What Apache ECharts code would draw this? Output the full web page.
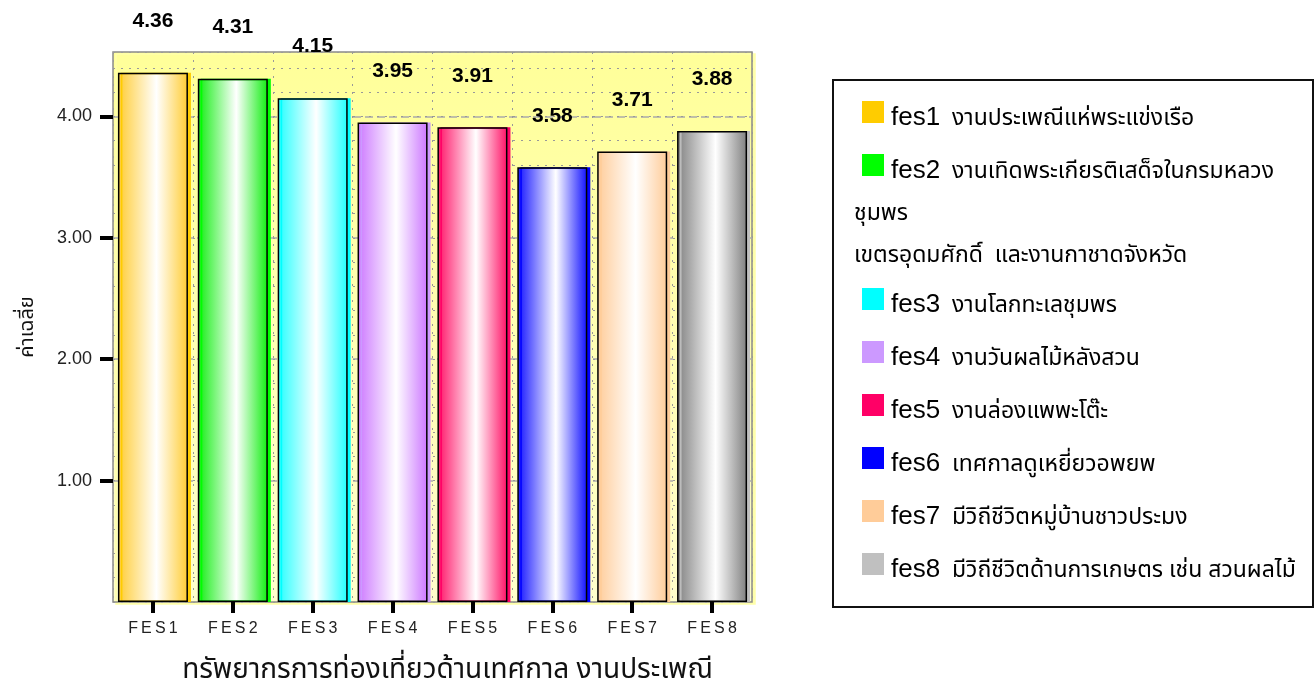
<!DOCTYPE html>
<html><head><meta charset="utf-8">
<script src="https://cdn.jsdelivr.net/npm/echarts@6/dist/echarts.min.js"></script>
<style>html,body{margin:0;padding:0;background:#fff}#c{width:1316px;height:689px}</style>
</head><body><div id="c"></div>
<script>
const categories = ['FES1','FES2','FES3','FES4','FES5','FES6','FES7','FES8'];
const values = [4.36, 4.31, 4.15, 3.95, 3.91, 3.58, 3.71, 3.88];
const barEdgeColors = ['#FFCC33','#11EE11','#22FFFF','#CC77FF','#FF1166','#1111FF','#FFCC99','#808080'];
const swatchColors = ['#FFCC00','#00FF00','#00FFFF','#CC99FF','#FF0066','#0000FF','#FFCC99','#C0C0C0'];
const legendCodes = ['fes1','fes2','fes3','fes4','fes5','fes6','fes7','fes8'];
const legendNames = [
  'งานประเพณีแห่พระแข่งเรือ',
  'งานเทิดพระเกียรติเสด็จในกรมหลวง',
  'งานโลกทะเลชุมพร',
  'งานวันผลไม้หลังสวน',
  'งานล่องแพพะโต๊ะ',
  'เทศกาลดูเหยี่ยวอพยพ',
  'มีวิถีชีวิตหมู่บ้านชาวประมง',
  'มีวิถีชีวิตด้านการเกษตร เช่น สวนผลไม้'
];
const legendExtraLines = [[], ['ชุมพร', 'เขตรอุดมศักดิ์  และงานกาชาดจังหวัด'], [], [], [], [], [], []];
const yTickValues = [1, 2, 3, 4];
const yAxisName = 'ค่าเฉลี่ย';
const xAxisName = 'ทรัพยากรการท่องเที่ยวด้านเทศกาล งานประเพณี';

const THAI = "'Noto Sans Thai','Tahoma','Liberation Sans','DejaVu Sans',sans-serif";
const LAT = "'Liberation Sans',Arial,sans-serif";

const chart = echarts.init(document.getElementById('c'), null, {renderer: 'canvas'});

// legend graphics
const graphics = [];
const boxL = 833, boxT = 80, boxW = 480, boxH = 527;
graphics.push({type: 'rect', shape: {x: boxL, y: boxT, width: boxW, height: boxH},
  style: {fill: '#fff', stroke: '#111', lineWidth: 2}, z: 1});
let y = 130;
legendCodes.forEach((code, i) => {
  graphics.push({type: 'rect', shape: {x: 862, y: y - 29, width: 22, height: 22},
    style: {fill: swatchColors[i]}, z: 2});
  graphics.push({type: 'text', x: 891, y: y + 1, z: 2,
    style: {text: code, font: '26px ' + LAT, fill: '#000', verticalAlign: 'bottom'}});
  graphics.push({type: 'text', x: 952, y: y + 2, z: 2,
    style: {text: legendNames[i], font: '23px ' + THAI, fill: '#000', verticalAlign: 'bottom'}});
  const extra = legendExtraLines[i];
  extra.forEach(line => {
    y += 42;
    graphics.push({type: 'text', x: 854, y: y + 2, z: 2,
      style: {text: line, font: '23px ' + THAI, fill: '#000', verticalAlign: 'bottom'}});
  });
  y += extra.length ? 50 : 53;
});

const option = {
  animation: false,
  backgroundColor: '#fff',
  grid: {
    left: 113, right: 564, top: 52, bottom: 87,
    outerBoundsMode: 'none', containLabel: false,
    show: true, borderColor: '#8a8a8a', borderWidth: 1.5,
    backgroundColor: {type: 'linear', x: 0, y: 0, x2: 0, y2: 1,
      colorStops: [{offset: 0, color: '#FFFF99'}, {offset: 1, color: '#FFFFCC'}]},
    shadowColor: '#FFFFAA', shadowOffsetX: 3, shadowOffsetY: 2, shadowBlur: 0
  },
  xAxis: {
    type: 'category', data: categories,
    axisLine: {show: false},
    axisTick: {show: true, alignWithLabel: true, length: 11, lineStyle: {color: '#000', width: 4}},
    axisLabel: {margin: 19, fontFamily: LAT, fontSize: 16, color: '#222',
      formatter: v => v.split('').join('\u2009')},
    splitLine: {show: true, lineStyle: {color: '#999', type: [2, 6], width: 1}},
    name: xAxisName, nameLocation: 'middle', nameGap: 56,
    nameTextStyle: {fontFamily: THAI, fontSize: 28, color: '#111', padding: [0, 0, 0, 30]}
  },
  yAxis: [{
    type: 'value', min: 0, max: 4.53, interval: 1,
    axisLine: {show: false},
    axisTick: {show: true, length: 13, lineStyle: {color: '#000', width: 4},
      customValues: yTickValues},
    axisLabel: {margin: 21, fontFamily: LAT, fontSize: 18, color: '#222',
      customValues: yTickValues, formatter: v => v.toFixed(2)},
    splitLine: {show: true, lineStyle: {color: '#aaa', type: [8, 4], width: 1.5}},
    name: yAxisName, nameLocation: 'middle', nameGap: 74, nameRotate: 90,
    nameTextStyle: {fontFamily: THAI, fontSize: 20, color: '#111'}
  }, {
    type: 'value', min: 0, max: 4.53, interval: 0.2, position: 'left',
    axisLine: {show: false}, axisTick: {show: false}, axisLabel: {show: false},
    splitLine: {show: true, lineStyle: {color: '#999', type: [2, 6], width: 1}}
  }],
  series: [{
    type: 'bar', yAxisIndex: 0, barWidth: 70,
    data: values.map((v, i) => ({
      value: v,
      itemStyle: {
        color: {type: 'linear', x: 0, y: 0, x2: 1, y2: 0,
          colorStops: [{offset: 0, color: barEdgeColors[i]}, {offset: 0.55, color: '#FFFFFF'}, {offset: 1, color: barEdgeColors[i]}]},
        borderColor: '#000', borderWidth: 1.5,
        shadowColor: swatchColors[i], shadowOffsetX: 3, shadowOffsetY: 0, shadowBlur: 0
      }
    })),
    label: {show: true, position: 'top', distance: 41, fontFamily: LAT, fontWeight: 'bold',
      fontSize: 21, color: '#000', formatter: p => p.value.toFixed(2)},
    z: 3
  }],
  graphic: graphics
};
chart.setOption(option);
</script></body></html>
